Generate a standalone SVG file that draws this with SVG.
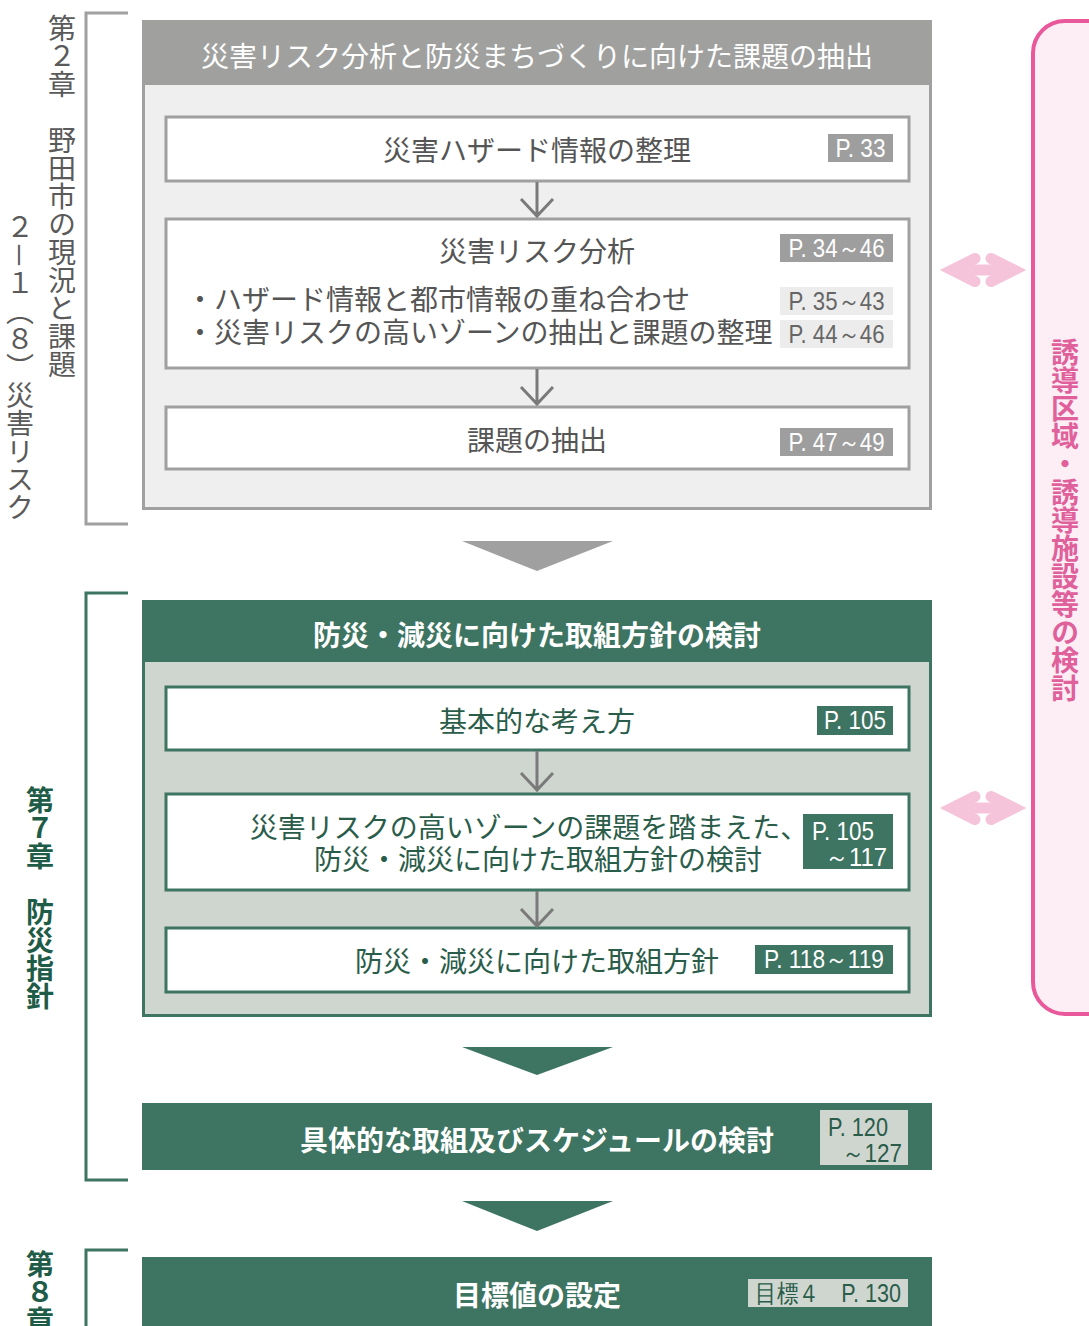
<svg xmlns="http://www.w3.org/2000/svg" width="1089" height="1326" viewBox="0 0 1089 1326">
<style>
.jp{font-family:"Noto Sans CJK JP","Noto Sans",sans-serif;font-size:28px}
.vt{writing-mode:vertical-rl;font-family:"Noto Sans CJK JP",sans-serif;font-size:28px}
.pg{font-family:"Liberation Sans",Arial,sans-serif;font-size:25px}
.gbox{fill:#ffffff;stroke:#a0a0a0;stroke-width:3}
.ebox{fill:#ffffff;stroke:#3e7462;stroke-width:3}
.arr{fill:none;stroke:#7a7a7a;stroke-width:3}
.pink{fill:none;stroke:#f5c4da;stroke-width:11;stroke-linecap:round;stroke-linejoin:miter}
</style>
<rect width="1089" height="1326" fill="#ffffff"/>

<g id="chapter-labels">
<path d="M128,13 H86 V524 H128" fill="none" stroke="#a0a0a0" stroke-width="3"/>
<path d="M128,593 H86 V1180 H128" fill="none" stroke="#3e7462" stroke-width="3"/>
<path d="M128,1250 H86 V1330" fill="none" stroke="#3e7462" stroke-width="3"/>
<text class="vt" x="62" y="14" fill="#5a5a5a">第２章　野田市の現況と課題</text>
<text class="vt" x="20" y="213" fill="#5a5a5a">２－１（８）災害リスク</text>
<text class="vt" x="40" y="786" fill="#1f5c48" font-weight="bold">第７章　防災指針</text>
<text class="vt" x="40" y="1250" fill="#1f5c48" font-weight="bold">第８章</text>
</g>

<g id="section-risk">
<rect x="143.5" y="21.5" width="787" height="487" fill="#efefef" stroke="#a0a0a0" stroke-width="3"/>
<rect x="142" y="20" width="790" height="65" fill="#a0a19f"/>
<text class="jp" x="537" y="67" text-anchor="middle" fill="#ffffff">災害リスク分析と防災まちづくりに向けた課題の抽出</text>
</g>

<g id="node-hazard">
<rect class="gbox" x="166" y="117" width="743" height="64"/>
<text class="jp" x="537" y="161" text-anchor="middle" fill="#555555">災害ハザード情報の整理</text>
<rect x="828" y="134" width="65" height="28" fill="#9e9e9e"/>
<text class="pg" x="860.5" y="157" text-anchor="middle" fill="#ffffff" textLength="50" lengthAdjust="spacingAndGlyphs">P. 33</text>
</g>

<g id="node-analysis">
<rect class="gbox" x="166" y="219" width="743" height="149"/>
<text class="jp" x="537" y="262" text-anchor="middle" fill="#555555">災害リスク分析</text>
<rect x="780" y="234" width="113" height="28" fill="#9e9e9e"/>
<text class="pg" x="836.5" y="257" text-anchor="middle" fill="#ffffff" textLength="96" lengthAdjust="spacingAndGlyphs">P. 34～46</text>
<text class="jp" x="186" y="310" fill="#555555">・ハザード情報と都市情報の重ね合わせ</text>
<text class="jp" x="186" y="343" fill="#555555">・災害リスクの高いゾーンの抽出と課題の整理</text>
<rect x="780" y="287" width="113" height="28" fill="#ececec"/>
<text class="pg" x="836.5" y="310" text-anchor="middle" fill="#666666" textLength="96" lengthAdjust="spacingAndGlyphs">P. 35～43</text>
<rect x="780" y="320" width="113" height="28" fill="#ececec"/>
<text class="pg" x="836.5" y="343" text-anchor="middle" fill="#666666" textLength="96" lengthAdjust="spacingAndGlyphs">P. 44～46</text>
</g>

<g id="node-issues">
<rect class="gbox" x="166" y="407" width="743" height="62"/>
<text class="jp" x="537" y="451" text-anchor="middle" fill="#555555">課題の抽出</text>
<rect x="780" y="428" width="113" height="28" fill="#9e9e9e"/>
<text class="pg" x="836.5" y="451" text-anchor="middle" fill="#ffffff" textLength="96" lengthAdjust="spacingAndGlyphs">P. 47～49</text>
</g>

<g id="section-policy">
<rect x="143.5" y="601.5" width="787" height="414" fill="#cfd6cf" stroke="#3e7462" stroke-width="3"/>
<rect x="142" y="600" width="790" height="62" fill="#3e7462"/>
<text class="jp" x="537" y="646" text-anchor="middle" fill="#ffffff" font-weight="bold">防災・減災に向けた取組方針の検討</text>
</g>

<g id="node-basic">
<rect class="ebox" x="166" y="687" width="743" height="63"/>
<text class="jp" x="537" y="732" text-anchor="middle" fill="#2a5c4a">基本的な考え方</text>
<rect x="817" y="706" width="76" height="29" fill="#3e7462"/>
<text class="pg" x="855" y="729" text-anchor="middle" fill="#ffffff" textLength="62" lengthAdjust="spacingAndGlyphs">P. 105</text>
</g>

<g id="node-policy-study">
<rect class="ebox" x="166" y="794" width="743" height="96"/>
<text class="jp" x="529" y="838" text-anchor="middle" fill="#2a5c4a">災害リスクの高いゾーンの課題を踏まえた、</text>
<text class="jp" x="538" y="870" text-anchor="middle" fill="#2a5c4a">防災・減災に向けた取組方針の検討</text>
<rect x="803" y="814" width="90" height="55" fill="#3e7462"/>
<text class="pg" x="812" y="840" fill="#ffffff" textLength="62" lengthAdjust="spacingAndGlyphs">P. 105</text>
<text class="pg" x="887" y="866" text-anchor="end" fill="#ffffff" textLength="62" lengthAdjust="spacingAndGlyphs">～117</text>
</g>

<g id="node-policy">
<rect class="ebox" x="166" y="928" width="743" height="64"/>
<text class="jp" x="537" y="972" text-anchor="middle" fill="#2a5c4a">防災・減災に向けた取組方針</text>
<rect x="755" y="945" width="138" height="29" fill="#3e7462"/>
<text class="pg" x="824" y="968" text-anchor="middle" fill="#ffffff" textLength="120" lengthAdjust="spacingAndGlyphs">P. 118～119</text>
</g>

<g id="node-schedule">
<rect x="142" y="1103" width="790" height="67" fill="#3e7462"/>
<text class="jp" x="537" y="1151" text-anchor="middle" fill="#ffffff" font-weight="bold">具体的な取組及びスケジュールの検討</text>
<rect x="820" y="1110" width="88" height="55" fill="#cfd6cf"/>
<text class="pg" x="828" y="1136" fill="#2a5c4a" textLength="60" lengthAdjust="spacingAndGlyphs">P. 120</text>
<text class="pg" x="902" y="1162" text-anchor="end" fill="#2a5c4a" textLength="60" lengthAdjust="spacingAndGlyphs">～127</text>
</g>

<g id="node-target">
<rect x="142" y="1257" width="790" height="75" fill="#3e7462"/>
<text class="jp" x="537" y="1306" text-anchor="middle" fill="#ffffff" font-weight="bold">目標値の設定</text>
<rect x="748" y="1279" width="160" height="28" fill="#cfd6cf"/>
<text class="pg" x="828" y="1302" text-anchor="middle" fill="#2a5c4a" textLength="146" lengthAdjust="spacingAndGlyphs">目標４　P. 130</text>
</g>

<g id="node-induction">
<rect x="1033" y="21" width="90" height="993" rx="32" ry="32" fill="#fdeef5" stroke="#e8589a" stroke-width="4"/>
<text class="vt" x="1065" y="338" fill="#e0609b" font-weight="bold">誘導区域・誘導施設等の検討</text>
</g>

<g id="connectors">
<path class="arr" d="M537,182 V215 M521,199 L537,216 L553,199"/>
<path class="arr" d="M537,369 V403 M521,387 L537,404 L553,387"/>
<path class="arr" d="M537,751 V789 M521,773 L537,790 L553,773"/>
<path class="arr" d="M537,891 V925 M521,909 L537,926 L553,909"/>
<polygon points="462,541 613,541 537,571" fill="#a0a0a0"/>
<polygon points="462,1047 613,1047 537,1075" fill="#3e7462"/>
<polygon points="462,1201 613,1201 537,1231" fill="#3e7462"/>
<g>
<line class="pink" x1="956" y1="270" x2="1010" y2="270"/>
<polyline class="pink" points="975,258.5 952,270 975,281.5"/>
<polyline class="pink" points="991,258.5 1014,270 991,281.5"/>
</g>
<g>
<line class="pink" x1="956" y1="808" x2="1010" y2="808"/>
<polyline class="pink" points="975,796.5 952,808 975,819.5"/>
<polyline class="pink" points="991,796.5 1014,808 991,819.5"/>
</g>
</g>
</svg>
